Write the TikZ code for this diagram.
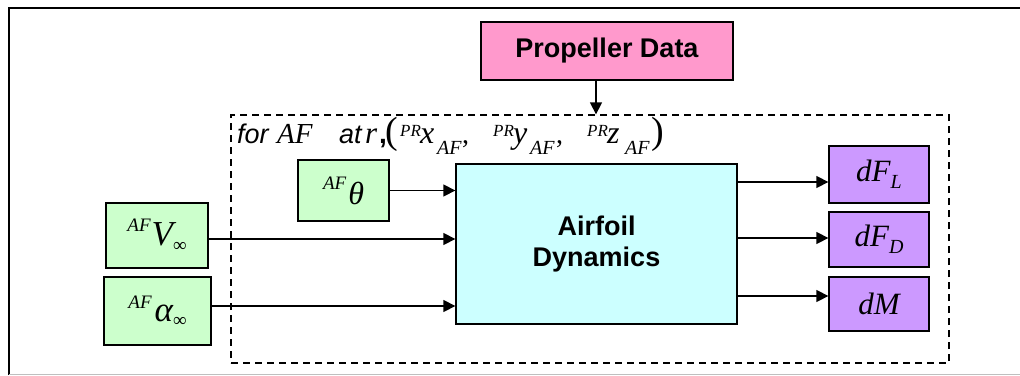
\documentclass[tikz,border=0pt]{standalone}
\usepackage{fontspec}
\setmainfont{Liberation Serif}
\setsansfont{Liberation Sans}
\usetikzlibrary{arrows.meta}
\newcommand{\fsz}[1]{\fontsize{#1}{#1}\selectfont}
\newcommand{\pcs}[2]{\makebox[#1pt][l]{#2}}
\newcommand{\serif}[1]{\rmfamily\itshape\fsz{#1}}
\newcommand{\supr}[2]{\raisebox{#1pt}{\serif{19}#2}}
\definecolor{inbox}{RGB}{204,255,204}
\definecolor{corebox}{RGB}{204,255,255}
\definecolor{outbox}{RGB}{204,153,255}
\definecolor{databox}{RGB}{255,153,204}
\tikzset{
  blockbox/.style={draw=black, line width=1.3pt, inner sep=0pt},
  inblock/.style={blockbox, fill=inbox},
  outblock/.style={blockbox, fill=outbox, minimum width=100pt},
  flow/.style={line width=1.3pt, -{Triangle[length=12pt,width=12pt]}},
  region/.style={draw=black, line width=1.3pt, dash pattern=on 7pt off 5pt, inner sep=0pt},
}
\begin{document}
\begin{tikzpicture}[x=1pt,y=-1pt]
\useasboundingbox (0,0) rectangle (1020,375);
% page frame
\draw[line width=2pt] (9,375) -- (9,8) -- (1021,8);
\draw[black!25, line width=1pt] (9,374) -- (1020,374);

% propeller data source
\node[blockbox, fill=databox, minimum width=252pt, minimum height=58pt] (prop) at (607,51)
  {\fsz{27}\sffamily\bfseries Propeller Data};

% dashed region for one airfoil section
\node[region, minimum width=718pt, minimum height=248pt] (reg) at (590,239) {};
\node[anchor=base west, inner sep=0pt] (lab) at (237,143) {%
  \pcs{40}{\sffamily\itshape\fsz{27}for}%
  \pcs{62}{\serif{29}AF}%
  \pcs{26}{\sffamily\itshape\fsz{27}at}%
  \pcs{14}{\serif{31}r}%
  \pcs{6}{\sffamily\bfseries\fsz{28},}%
  \pcs{15}{\rmfamily\fsz{38}(}%
  \pcs{20}{\raisebox{7pt}{\serif{17}PR}}%
  \pcs{17}{\serif{32}x}%
  \pcs{25}{\raisebox{-11pt}{\serif{20}AF}}%
  \pcs{31}{\rmfamily\fsz{28},}%
  \pcs{20}{\raisebox{7pt}{\serif{17}PR}}%
  \pcs{17}{\serif{32}y}%
  \pcs{26}{\raisebox{-11pt}{\serif{20}AF}}%
  \pcs{31}{\rmfamily\fsz{28},}%
  \pcs{20}{\raisebox{7pt}{\serif{17}PR}}%
  \pcs{18}{\serif{32}z}%
  \pcs{26}{\raisebox{-11pt}{\serif{20}AF}}%
  {\rmfamily\fsz{38})}};

% inputs
\node[inblock, minimum width=91pt, minimum height=61pt] (theta) at (343.5,190.5)
  {\supr{15}{AF}\hspace{2pt}{\serif{32}θ}};
\node[inblock, minimum width=102pt, minimum height=65pt] (vinf) at (157,235.5)
  {\supr{14}{AF}\hspace{1pt}{\serif{35}V}\raisebox{-6pt}{\rmfamily\fsz{19}∞}};
\node[inblock, minimum width=107pt, minimum height=68pt] (ainf) at (157.5,311)
  {\supr{13}{AF}\hspace{3pt}{\serif{35}α}\raisebox{-5pt}{\rmfamily\fsz{19}∞}};

% core block
\node[blockbox, fill=corebox, minimum width=281pt, minimum height=160pt, align=center,
      font=\fontsize{27}{31}\selectfont\sffamily\bfseries] (core) at (596.5,244)
  {Airfoil\\Dynamics};

% outputs
\node[outblock, minimum height=57pt] (dfl) at (879,174.5)
  {\serif{31}dF\raisebox{-7pt}{\serif{20}L}};
\node[outblock, minimum height=55pt] (dfd) at (879,239.5)
  {\serif{31}dF\raisebox{-7pt}{\serif{20}D}};
\node[outblock, minimum height=54pt] (dm) at (879,304)
  {\serif{31}dM};

% connectors
\draw[flow] ([xshift=-11pt]prop.south) -- ([xshift=-11pt]prop.south |- reg.north);
\draw[flow] (theta.east) -- (theta.east -| core.west);
\draw[flow] ([yshift=-3.5pt]vinf.east) -- ([yshift=-3.5pt]vinf.east -| core.west);
\draw[flow] ([yshift=5pt]ainf.east) -- ([yshift=5pt]ainf.east -| core.west);
\draw[flow] ([yshift=-7.5pt]dfl.west -| core.east) -- ([yshift=-7.5pt]dfl.west);
\draw[flow] ([yshift=1.5pt]dfd.west -| core.east) -- ([yshift=1.5pt]dfd.west);
\draw[flow] ([yshift=8pt]dm.west -| core.east) -- ([yshift=8pt]dm.west);
\end{tikzpicture}
\end{document}
